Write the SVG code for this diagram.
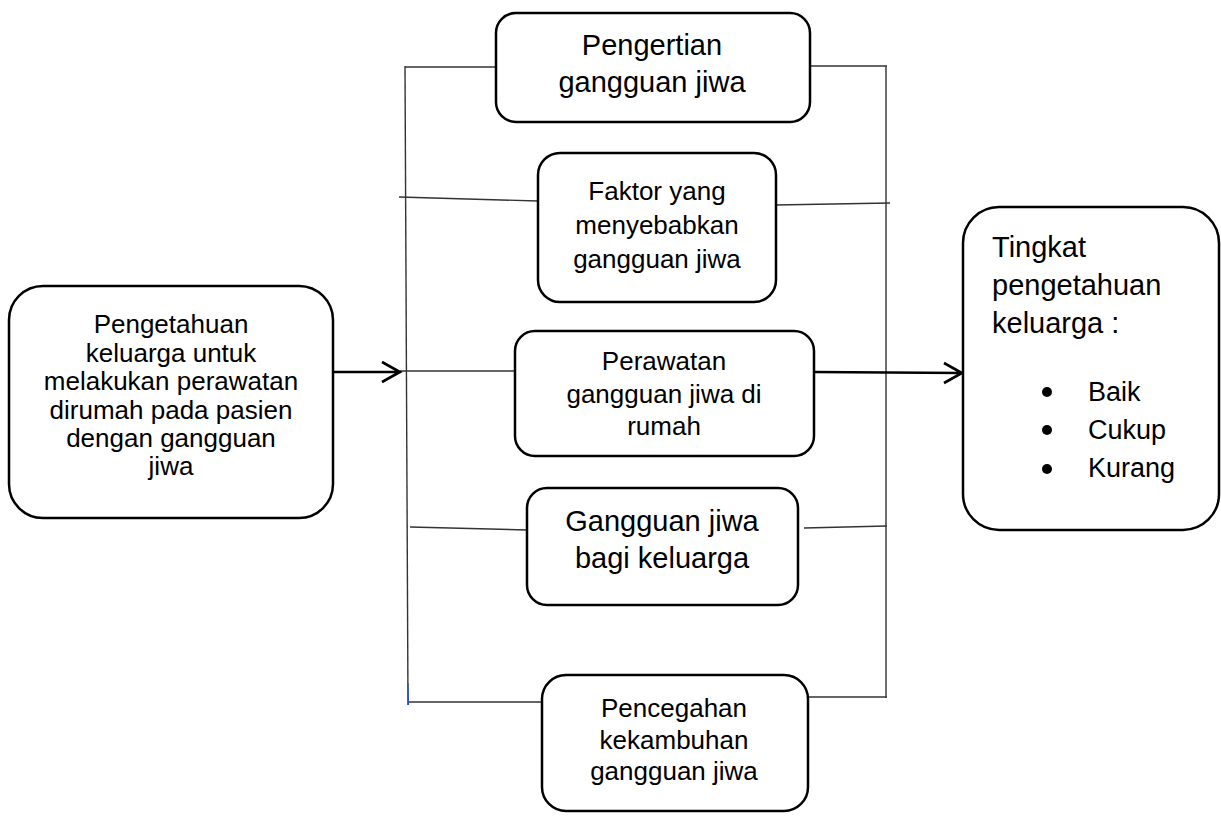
<svg xmlns="http://www.w3.org/2000/svg" width="1221" height="818" viewBox="0 0 1221 818">
<style>
.box{fill:#fff;stroke:#000;stroke-width:2.5}
.ln{stroke:#333;stroke-width:1.4;fill:none}
.ar{stroke:#000;stroke-width:2.6;fill:none}
text{font-family:"Liberation Sans",Arial,sans-serif;fill:#000;text-anchor:middle}
.f26{font-size:26px}
.f29{font-size:29px}
.st{text-anchor:start}
</style>
<rect width="1221" height="818" fill="#fff"/>
<g id="connectors">
<line class="ln" x1="405" y1="66" x2="408" y2="705"/>
<line class="ln" x1="886" y1="66" x2="886" y2="698"/>
<line class="ln" x1="405" y1="67" x2="496" y2="67"/>
<line class="ln" x1="810" y1="66" x2="887" y2="66"/>
<line class="ln" x1="399" y1="197" x2="538" y2="201"/>
<line class="ln" x1="775" y1="205" x2="890" y2="203"/>
<line class="ln" x1="400" y1="371" x2="515" y2="371"/>
<line class="ln" x1="410" y1="527" x2="527" y2="530"/>
<line class="ln" x1="804" y1="528" x2="887" y2="526"/>
<line class="ln" x1="408" y1="702" x2="541" y2="702"/>
<line class="ln" x1="808" y1="697" x2="887" y2="697"/>
<line x1="408" y1="683" x2="408.5" y2="705" stroke="#2a4fd0" stroke-width="1.2"/>
<path class="ar" d="M330 372 H400 M382 362 L400 372 L382 382"/>
<path class="ar" d="M814 372 L962 373 M944 363 L962 373 L944 383"/>
</g>
<g id="node-left">
<rect class="box" x="9" y="286" width="324" height="232" rx="34"/>
<text class="f26" x="171" y="333">Pengetahuan</text>
<text class="f26" x="171" y="361.5">keluarga untuk</text>
<text class="f26" x="171" y="390">melakukan perawatan</text>
<text class="f26" x="171" y="418.5">dirumah pada pasien</text>
<text class="f26" x="171" y="447">dengan gangguan</text>
<text class="f26" x="171" y="475">jiwa</text>
</g>
<g id="node-pengertian">
<rect class="box" x="496" y="13" width="314" height="109" rx="20"/>
<text class="f29" x="652" y="55">Pengertian</text>
<text class="f29" x="652" y="92">gangguan jiwa</text>
</g>
<g id="node-faktor">
<rect class="box" x="538" y="153" width="238" height="149" rx="22"/>
<text class="f26" x="657" y="200">Faktor yang</text>
<text class="f26" x="657" y="234">menyebabkan</text>
<text class="f26" x="657" y="268">gangguan jiwa</text>
</g>
<g id="node-perawatan">
<rect class="box" x="515" y="331" width="299" height="125" rx="20"/>
<text class="f26" x="664" y="370">Perawatan</text>
<text class="f26" x="664" y="403">gangguan jiwa di</text>
<text class="f26" x="664" y="435">rumah</text>
</g>
<g id="node-gangguan">
<rect class="box" x="527" y="488" width="271" height="117" rx="20"/>
<text class="f29" x="662" y="531">Gangguan jiwa</text>
<text class="f29" x="662" y="568">bagi keluarga</text>
</g>
<g id="node-pencegahan">
<rect class="box" x="542" y="675" width="266" height="136" rx="24"/>
<text class="f26" x="674" y="717">Pencegahan</text>
<text class="f26" x="674" y="749">kekambuhan</text>
<text class="f26" x="674" y="780">gangguan jiwa</text>
</g>
<g id="node-tingkat">
<rect class="box" x="963" y="207" width="256" height="323" rx="36"/>
<text class="f29 st" x="992" y="257">Tingkat</text>
<text class="f29 st" x="992" y="295">pengetahuan</text>
<text class="f29 st" x="992" y="333">keluarga :</text>
<circle cx="1047" cy="392" r="5"/>
<circle cx="1047" cy="430" r="5"/>
<circle cx="1047" cy="469" r="5"/>
<text class="st" x="1088" y="401" style="font-size:27px">Baik</text>
<text class="st" x="1088" y="439" style="font-size:27px">Cukup</text>
<text class="st" x="1088" y="477" style="font-size:27px">Kurang</text>
</g>
</svg>
